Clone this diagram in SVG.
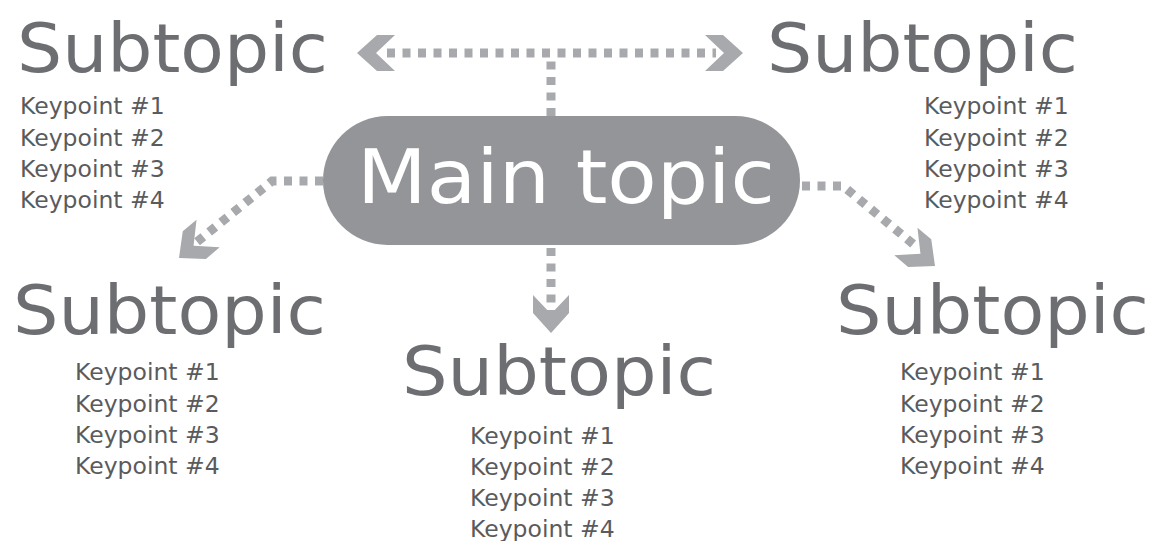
<svg xmlns="http://www.w3.org/2000/svg" width="1155" height="541" viewBox="0 0 1155 541">
<style>
.sub{font-family:"DejaVu Sans","Liberation Sans",sans-serif;font-size:67px;fill:#6d6e71}
.kp{font-family:"DejaVu Sans","Liberation Sans",sans-serif;font-size:23.5px;fill:#5a5b5d}
.main{font-family:"DejaVu Sans","Liberation Sans",sans-serif;font-size:75px;fill:#ffffff}
.dash{fill:none;stroke:#a7a9ac;stroke-width:9;stroke-dasharray:8 7.5}
.head{fill:#a7a9ac}
</style>
<defs>
<polygon id="chev" points="0,0 -20,-18 -38,-18 -19,0 -38,18 -20,18"/>
</defs>
<rect width="1155" height="541" fill="#ffffff"/>
<g id="connectors">
<path class="dash" d="M387,53 H716"/>
<path class="dash" d="M551,116 V58"/>
<path class="dash" d="M551,248 V318"/>
<path class="dash" d="M323,181 H272 L192,246"/>
<path class="dash" d="M802,186 H843 L918,248"/>
<use href="#chev" class="head" transform="translate(357,53) rotate(180)"/>
<use href="#chev" class="head" transform="translate(743,53)"/>
<use href="#chev" class="head" transform="translate(551,333) rotate(90)"/>
<use href="#chev" class="head" transform="translate(179,258) rotate(140)"/>
<use href="#chev" class="head" transform="translate(935,266) rotate(40)"/>
</g>
<g id="main">
<rect x="323" y="116" width="477" height="129" rx="64.5" fill="#939598"/>
<text class="main" x="357" y="203" textLength="418" lengthAdjust="spacingAndGlyphs">Main topic</text>
</g>
<g id="sub-tl">
<text class="sub" x="17" y="72" textLength="311" lengthAdjust="spacingAndGlyphs">Subtopic</text>
<text class="kp" x="20" y="114">Keypoint #1</text>
<text class="kp" x="20" y="146">Keypoint #2</text>
<text class="kp" x="20" y="177">Keypoint #3</text>
<text class="kp" x="20" y="208">Keypoint #4</text>
</g>
<g id="sub-tr">
<text class="sub" x="767" y="72" textLength="311" lengthAdjust="spacingAndGlyphs">Subtopic</text>
<text class="kp" x="924" y="114">Keypoint #1</text>
<text class="kp" x="924" y="146">Keypoint #2</text>
<text class="kp" x="924" y="177">Keypoint #3</text>
<text class="kp" x="924" y="208">Keypoint #4</text>
</g>
<g id="sub-bl">
<text class="sub" x="13" y="334" textLength="313" lengthAdjust="spacingAndGlyphs">Subtopic</text>
<text class="kp" x="75" y="380">Keypoint #1</text>
<text class="kp" x="75" y="412">Keypoint #2</text>
<text class="kp" x="75" y="443">Keypoint #3</text>
<text class="kp" x="75" y="474">Keypoint #4</text>
</g>
<g id="sub-bc">
<text class="sub" x="402" y="395" textLength="314" lengthAdjust="spacingAndGlyphs">Subtopic</text>
<text class="kp" x="470" y="444">Keypoint #1</text>
<text class="kp" x="470" y="475">Keypoint #2</text>
<text class="kp" x="470" y="506">Keypoint #3</text>
<text class="kp" x="470" y="537">Keypoint #4</text>
</g>
<g id="sub-br">
<text class="sub" x="836" y="334" textLength="313" lengthAdjust="spacingAndGlyphs">Subtopic</text>
<text class="kp" x="900" y="380">Keypoint #1</text>
<text class="kp" x="900" y="412">Keypoint #2</text>
<text class="kp" x="900" y="443">Keypoint #3</text>
<text class="kp" x="900" y="474">Keypoint #4</text>
</g>
</svg>
